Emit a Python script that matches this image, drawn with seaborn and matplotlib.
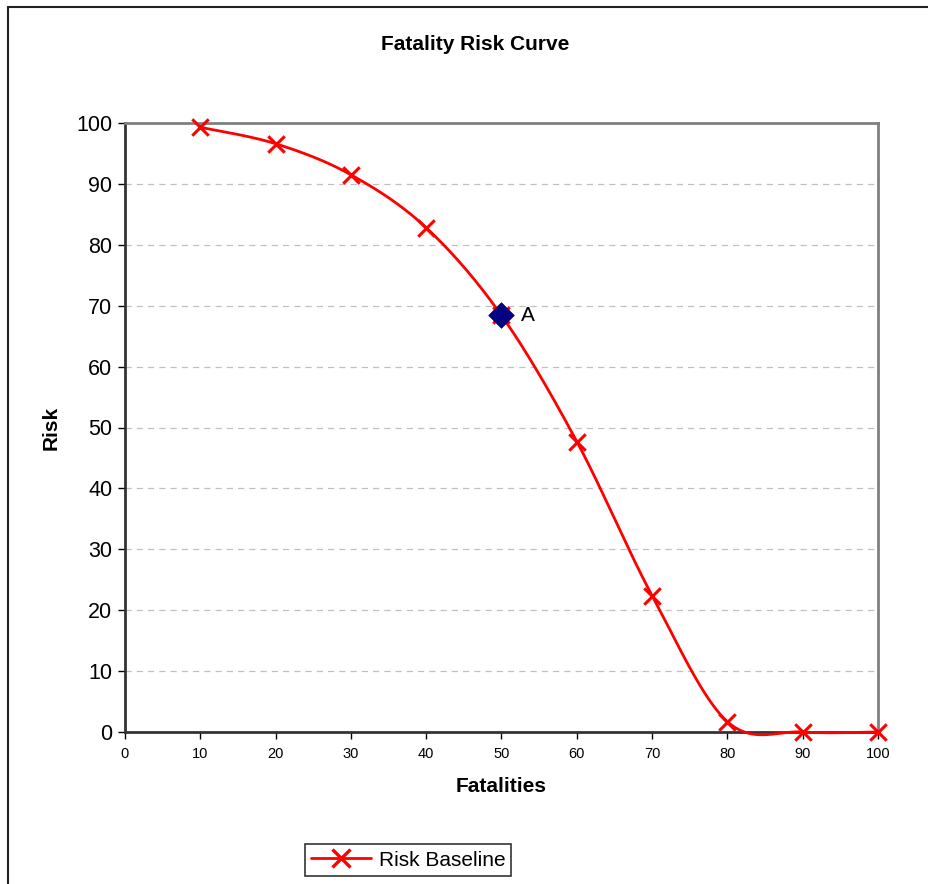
import numpy as np
import pandas as pd
import matplotlib
matplotlib.use("Agg")
import matplotlib.pyplot as plt
import seaborn as sns
from matplotlib.patches import Rectangle
from matplotlib.lines import Line2D

# Risk curve data
fatalities = [10, 20, 30, 40, 50, 60, 70, 80, 90, 100]
risk = [99.3, 96.6, 91.5, 82.8, 68.4, 47.7, 22.4, 1.7, 0.0, 0.0]
point_a_x = [50]
point_a_y = [68.4]
point_a_label = "A"
x_ticks = list(range(0, 101, 10))
y_ticks = list(range(0, 101, 10))

sns.set_theme(style="white")
plt.rcParams['font.family'] = ['Liberation Sans', 'DejaVu Sans']
plt.rcParams['text.color'] = 'black'
plt.rcParams['axes.labelcolor'] = 'black'


def smooth_curve(xs, ys, n=40):
    """Bezier smoothing of a polyline (Catmull-Rom style control points)."""
    pts = np.column_stack([xs, ys]).astype(float)
    out = []
    m = len(pts)
    for i in range(m - 1):
        p0 = pts[i - 1] if i > 0 else pts[i]
        p1 = pts[i]
        p2 = pts[i + 1]
        p3 = pts[i + 2] if i + 2 < m else pts[i + 1]
        c1 = p1 + (p2 - p0) / 6.0
        c2 = p2 - (p3 - p1) / 6.0
        t = np.linspace(0, 1, n)[:, None]
        seg = ((1 - t) ** 3) * p1 + 3 * ((1 - t) ** 2) * t * c1 + 3 * (1 - t) * t ** 2 * c2 + t ** 3 * p2
        out.append(seg if i == 0 else seg[1:])
    return np.vstack(out)


W, H = 929, 884
fig = plt.figure(figsize=(W / 100, H / 100), dpi=100)
ax = fig.add_axes([125 / W, 1 - 732 / H, (878 - 125) / W, (732 - 123) / H])

df = pd.DataFrame({"Fatalities": fatalities, "Risk": risk})
curve = smooth_curve(fatalities, risk)
curve_df = pd.DataFrame({"x": curve[:, 0], "y": curve[:, 1]})

sns.lineplot(data=curve_df, x="x", y="y", ax=ax, color="#ff0000", linewidth=2,
             sort=False, estimator=None, legend=False, zorder=3, clip_on=False)
sns.scatterplot(data=df, x="Fatalities", y="Risk", ax=ax, marker="x", s=140,
                color="#ff0000", linewidth=2.2, zorder=4, legend=False, clip_on=False)
sns.scatterplot(x=point_a_x, y=point_a_y, ax=ax, marker="D", s=170,
                color="#000080", edgecolor="#000080", linewidth=0.5, zorder=5,
                clip_on=False)
ax.text(point_a_x[0] + 2.6, point_a_y[0], point_a_label, fontsize=15,
        va="center", ha="left", color="black")

ax.set_xlim(0, 100)
ax.set_ylim(0, 100)
ax.set_xticks(x_ticks)
ax.set_yticks(y_ticks)
ax.set_xticklabels([str(v) for v in x_ticks], fontsize=10.5)
ax.set_yticklabels([str(v) for v in y_ticks], fontsize=15.5)
ax.tick_params(axis="both", direction="out", length=5, width=1, color="black",
               bottom=True, left=True, labelcolor="black")
ax.tick_params(axis="x", pad=6)
ax.tick_params(axis="y", pad=4)

ax.yaxis.grid(True, linestyle=(0, (5, 4)), color="#c0c0c0", linewidth=0.9)
ax.xaxis.grid(False)
ax.set_axisbelow(True)

for side in ["top", "right"]:
    ax.spines[side].set_color("#808080")
    ax.spines[side].set_linewidth(2)
for side in ["left", "bottom"]:
    ax.spines[side].set_color("#333333")
    ax.spines[side].set_linewidth(2)

ax.set_xlabel("Fatalities", fontsize=15, fontweight="bold", labelpad=11)
ax.set_ylabel("Risk", fontsize=15, fontweight="bold", labelpad=11)
fig.text(475 / W, 1 - 45 / H, "Fatality Risk Curve", fontsize=15,
         fontweight="bold", ha="center", va="center")

# Legend
handle = Line2D([0], [0], color="#ff0000", linewidth=2, marker="x",
                markersize=13, markeredgewidth=2.4)
leg = fig.legend([handle], ["Risk Baseline"], loc="center",
                 bbox_to_anchor=(408 / W, 1 - 860 / H), frameon=True,
                 fontsize=15, fancybox=False, handlelength=2.9,
                 borderpad=0.3, handletextpad=0.35)
leg.get_frame().set_edgecolor("black")
leg.get_frame().set_linewidth(1.2)

# Outer chart frame
fig.patches.append(Rectangle((8 / W, -0.1), 1.2, 1.1 - 7 / H, transform=fig.transFigure,
                             fill=False, edgecolor="#222222", linewidth=1.5))

fig.savefig("out.png", dpi=100, facecolor="white")
